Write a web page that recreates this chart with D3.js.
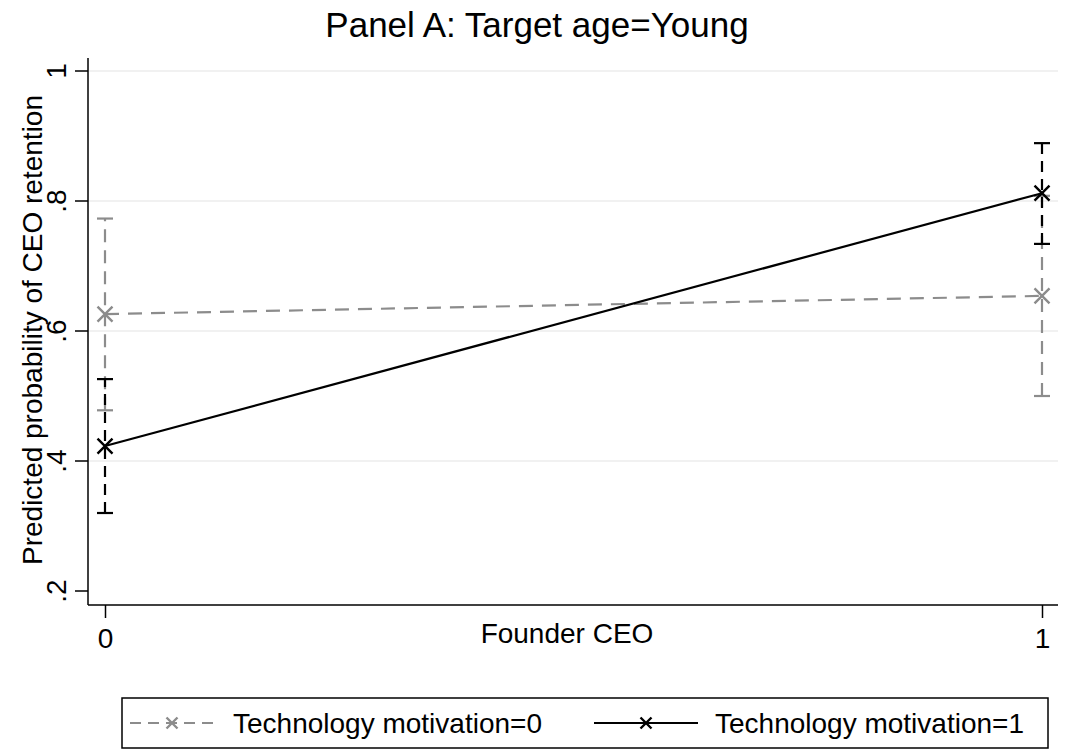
<!DOCTYPE html>
<html><head><meta charset="utf-8">
<script src="https://cdn.jsdelivr.net/npm/d3@7"></script>
<style>body{margin:0;background:#fff}svg{display:block}text{font-family:"Liberation Sans",Arial,sans-serif}</style>
</head><body><svg id="c" width="1065" height="754"></svg>
<script>
const categories = [0, 1];
const xTickLabels = ["0", "1"];
const yTicks = [0.2, 0.4, 0.6, 0.8, 1];
const yTickLabels = [".2", ".4", ".6", ".8", "1"];
const gridTicks = [0.4, 0.6, 0.8, 1];
const seriesNames = ["Technology motivation=0", "Technology motivation=1"];
const est0 = [0.626, 0.654];
const lo0 = [0.478, 0.500];
const hi0 = [0.773, 0.808];
const est1 = [0.423, 0.812];
const lo1 = [0.320, 0.734];
const hi1 = [0.526, 0.889];

const FS = 28;
const svg = d3.select("#c");
const x = d3.scaleLinear().domain([0, 1]).range([105, 1042]);
const y = d3.scaleLinear().domain([0.2, 1]).range([591, 71]);
const left = 88, bottom = 605, right = 1058;

// gridlines
svg.append("g").selectAll("line").data(gridTicks).join("line")
  .attr("x1", left).attr("x2", right).attr("y1", d => y(d)).attr("y2", d => y(d))
  .attr("stroke", "#ececec").attr("stroke-width", 1.5);

// y axis
const ya = svg.append("g").attr("transform", `translate(${left},0)`)
  .call(d3.axisLeft(y).tickValues(yTicks).tickFormat((d, i) => yTickLabels[i]).tickSize(13));
ya.select(".domain").attr("stroke", "#000").attr("stroke-width", 1.5).attr("d", `M0,58V${bottom}`);
ya.selectAll(".tick").attr("transform", null);
ya.selectAll(".tick line").attr("stroke", "#000").attr("stroke-width", 1.5)
  .attr("y1", d => y(d)).attr("y2", d => y(d));
ya.selectAll(".tick text").attr("font-size", FS).attr("fill", "#000")
  .attr("font-family", "Liberation Sans, Arial, sans-serif")
  .attr("text-anchor", "middle").attr("dy", null).attr("x", 0).attr("y", 0)
  .attr("transform", d => `translate(-22,${y(d)}) rotate(-90)`);

// x axis
const xa = svg.append("g").attr("transform", `translate(0,${bottom})`)
  .call(d3.axisBottom(x).tickValues(categories).tickFormat((d, i) => xTickLabels[i]).tickSize(13));
xa.select(".domain").attr("stroke", "#000").attr("stroke-width", 1.5).attr("d", `M${left},0H${right}`);
xa.selectAll(".tick line").attr("stroke", "#000").attr("stroke-width", 1.5);
xa.selectAll(".tick text").attr("font-size", FS).attr("fill", "#000")
  .attr("font-family", "Liberation Sans, Arial, sans-serif").attr("dy", null).attr("y", 43);

// titles
svg.append("text").attr("x", 537).attr("y", 37).attr("text-anchor", "middle")
  .attr("font-size", 35).text("Panel A: Target age=Young");
svg.append("text").attr("x", 567).attr("y", 643).attr("text-anchor", "middle")
  .attr("font-size", FS).text("Founder CEO");
svg.append("text").attr("transform", `translate(42,330) rotate(-90)`).attr("text-anchor", "middle")
  .attr("font-size", FS).text("Predicted probability of CEO retention");

const gray = "#8c8c8c", black = "#000";
const series = [
  {est: est0, lo: lo0, hi: hi0, color: gray, ciDash: "13,8", lineDash: "14,9"},
  {est: est1, lo: lo1, hi: hi1, color: black, ciDash: "11,7", lineDash: null}
];

function xMark(g, cx, cy, color, s) {
  g.append("path").attr("d", `M${cx - s},${cy - s}L${cx + s},${cy + s}M${cx - s},${cy + s}L${cx + s},${cy - s}`)
    .attr("stroke", color).attr("stroke-width", 2.4).attr("fill", "none");
}

const plot = svg.append("g");
series.forEach(s => {
  categories.forEach((c, i) => {
    plot.append("line").attr("x1", x(c)).attr("x2", x(c)).attr("y1", y(s.lo[i])).attr("y2", y(s.hi[i]))
      .attr("stroke", s.color).attr("stroke-width", 2.2).attr("stroke-dasharray", s.ciDash);
    [s.lo[i], s.hi[i]].forEach(v => plot.append("line").attr("x1", x(c) - 8).attr("x2", x(c) + 8)
      .attr("y1", y(v)).attr("y2", y(v)).attr("stroke", s.color).attr("stroke-width", 2.2));
  });
});
series.forEach(s => {
  const line = d3.line().x((d, i) => x(categories[i])).y(d => y(d));
  plot.append("path").attr("d", line(s.est)).attr("fill", "none").attr("stroke", s.color)
    .attr("stroke-width", 2.2).attr("stroke-dasharray", s.lineDash);
  categories.forEach((c, i) => xMark(plot, x(c), y(s.est[i]), s.color, 7.5));
});

// legend
const lg = svg.append("g");
lg.append("rect").attr("x", 122).attr("y", 698).attr("width", 926).attr("height", 50)
  .attr("fill", "#fff").attr("stroke", "#000").attr("stroke-width", 1.5);
const items = [{x0: 130, x1: 214, tx: 233}, {x0: 594, x1: 698, tx: 715}];
items.forEach((it, i) => {
  const s = series[i];
  lg.append("line").attr("x1", it.x0).attr("x2", it.x1).attr("y1", 723).attr("y2", 723)
    .attr("stroke", s.color).attr("stroke-width", 2.2).attr("stroke-dasharray", i === 0 ? "11,7" : null);
  xMark(lg, (it.x0 + it.x1) / 2, 723, s.color, 5.5);
  lg.append("text").attr("x", it.tx).attr("y", 733).attr("font-size", FS).text(seriesNames[i]);
});
</script></body></html>
